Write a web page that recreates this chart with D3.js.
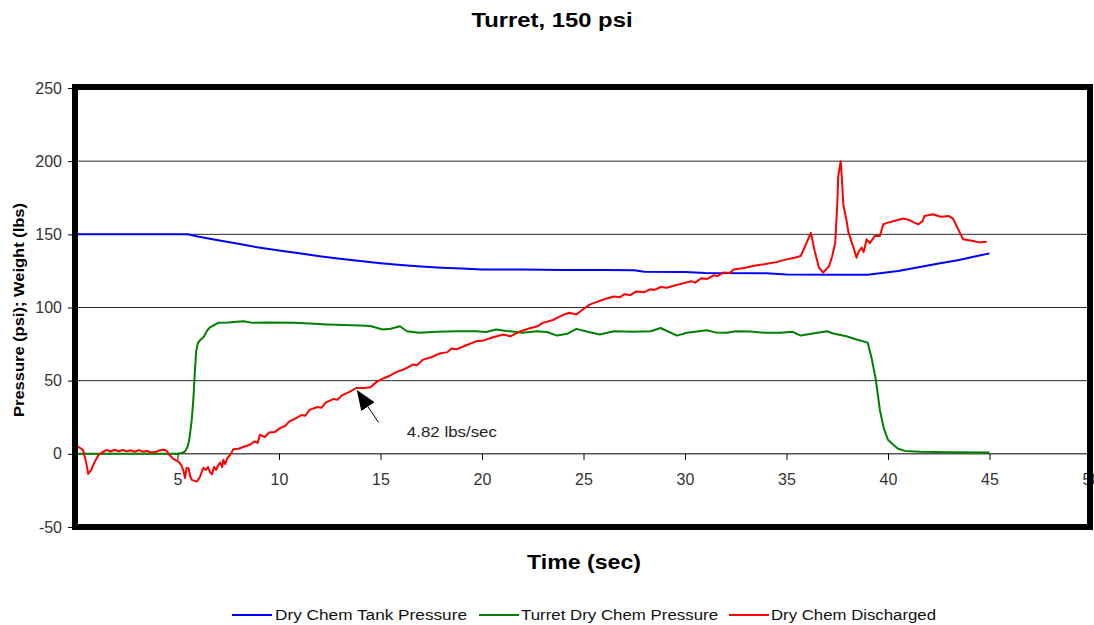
<!DOCTYPE html>
<html>
<head>
<meta charset="utf-8">
<script src="https://cdn.jsdelivr.net/npm/d3@7/dist/d3.min.js"></script>
<style>
    body { margin: 0; background: #ffffff; }
    svg { display: block; font-family: Arial, 'Liberation Sans', sans-serif; }
</style>
</head>
<body>
<div id="chart"></div>
<script>
const X_TICKS = [5, 10, 15, 20, 25, 30, 35, 40, 45, 50];
const Y_TICKS = [-50, 0, 50, 100, 150, 200, 250];
const GRID_VALUES = [50, 100, 150, 200];

// [time (sec), psi]
const tankPressure = [
    [0, 150], [1, 150], [2, 150], [3, 150], [4, 150], [5, 150], [5.5, 150], [6, 148.5], [7, 146],
    [8, 143.5], [9, 141], [10, 139], [11, 137], [12, 135], [13, 133.3], [14, 131.7], [15, 130.2],
    [16, 129], [17, 128], [18, 127.2], [19, 126.6], [20, 126], [22, 126], [24, 125.6], [26, 125.6],
    [27.5, 125.4], [28, 124.4], [30, 124.2], [31, 123.6], [34, 123.4], [35, 122.5], [38, 122.4],
    [39, 122.4], [39.5, 123.3], [40.5, 125], [41.5, 127.5], [42.5, 130], [43.5, 132.5], [44.5, 135.5],
    [45, 137]
];

// [time (sec), psi]
const turretPressure = [
    [0, 0], [1, 0], [2, 0], [3, 0], [4, 0], [5, 0], [5.2, 0.5], [5.37, 1.6], [5.5, 5], [5.58, 9.6],
    [5.7, 23], [5.78, 37], [5.85, 55], [5.92, 70], [6, 75.5], [6.1, 77.5], [6.3, 80], [6.45, 84],
    [6.6, 86.5], [7, 89.5], [7.5, 89.8], [8.25, 90.6], [8.7, 89.5], [9.5, 89.8], [10.7, 89.5],
    [11.5, 89], [12.35, 88.4], [13.2, 88], [14, 87.7], [14.5, 87.3], [15.1, 85], [15.5, 85.5],
    [15.96, 87.2], [16.3, 83.8], [16.9, 82.7], [17.8, 83.5], [18.75, 83.8], [19.7, 83.8], [20.2, 83.2],
    [20.7, 85], [21.2, 84], [22, 82.7], [22.7, 83.8], [23.2, 83.3], [23.7, 80.8], [24.2, 82],
    [24.65, 85.4], [25.3, 83.1], [25.8, 81.5], [26.5, 83.8], [27.45, 83.4], [28.3, 83.8], [28.8, 86],
    [29.6, 80.8], [30.1, 82.7], [31.07, 84.5], [31.5, 83], [32.05, 82.7], [32.5, 83.8], [33.2, 83.6],
    [34, 82.7], [34.7, 82.7], [35.3, 83.4], [35.7, 80.8], [36.3, 82.2], [37, 83.8], [37.3, 82.2],
    [37.95, 80.3], [38.45, 78.1], [39, 76], [39.2, 65], [39.4, 50.7], [39.6, 30], [39.8, 17], [40, 9.6],
    [40.26, 6.2], [40.5, 3.5], [40.84, 2], [41.6, 1.4], [43, 1], [45, 0.9]
];

// [time (sec), lbs]
const dischargedWeight = [
    [0, 5.5], [0.2, 4], [0.35, 2.5], [0.5, -6], [0.6, -13.7], [0.75, -11], [0.9, -6], [1.1, -1],
    [1.3, 1], [1.5, 2.7], [1.7, 1.6], [1.9, 2.8], [2.1, 1.8], [2.3, 2.6], [2.5, 1.7], [2.7, 2.4],
    [2.9, 1.4], [3.1, 2.5], [3.3, 1.5], [3.5, 1.9], [3.7, 0.9], [3.9, 1.2], [4.1, 2.3], [4.3, 2.8],
    [4.45, 2.3], [4.6, -0.7], [4.8, -3.5], [5.05, -5.3], [5.2, -8], [5.3, -12], [5.37, -16.5],
    [5.45, -9.6], [5.55, -10], [5.62, -15], [5.7, -17.8], [5.95, -19], [6.1, -16], [6.27, -9.6],
    [6.4, -11], [6.5, -9], [6.6, -12.5], [6.7, -14], [6.8, -9], [6.9, -11], [7, -8], [7.1, -6],
    [7.2, -9], [7.26, -4.1], [7.35, -7], [7.45, -3], [7.6, -0.7], [7.75, 3.2], [8, 3.5], [8.3, 5],
    [8.57, 6.2], [8.8, 8.5], [8.95, 7.5], [9.06, 13], [9.3, 11.5], [9.5, 14.5], [9.8, 15],
    [10.05, 17.6], [10.3, 19], [10.5, 22], [10.8, 24], [11.1, 26.5], [11.3, 26], [11.5, 30],
    [11.9, 32], [12.1, 31.5], [12.3, 35], [12.7, 37.5], [12.9, 37], [13.1, 40], [13.5, 42.5],
    [13.8, 45], [14.2, 45], [14.5, 45.5], [14.8, 49], [15, 50.7], [15.4, 53], [15.8, 56], [16.2, 58],
    [16.6, 61], [16.8, 60.5], [17.1, 64.4], [17.5, 66], [17.9, 68.5], [18.3, 69.5], [18.5, 72],
    [18.75, 71.5], [19.2, 74], [19.7, 76.9], [20.1, 77.5], [20.5, 79.5], [21.05, 81.5], [21.4, 80.3],
    [21.9, 83.8], [22.4, 86], [22.7, 87], [23, 89.5], [23.5, 91.5], [24, 95], [24.3, 96.4],
    [24.65, 95.2], [25, 99], [25.3, 102], [25.7, 104], [26.1, 106], [26.5, 107.5], [26.8, 107],
    [27, 109], [27.3, 108.5], [27.6, 111], [28, 110.5], [28.3, 112.5], [28.5, 112], [28.8, 114],
    [29.1, 113.5], [29.5, 115], [29.9, 116.5], [30.3, 118], [30.5, 117], [30.8, 120], [31.1, 119.5],
    [31.4, 122], [31.6, 121.5], [31.9, 124], [32.2, 123.5], [32.4, 126], [32.9, 127], [33.4, 128.5],
    [33.9, 129.5], [34.5, 131], [35, 132.9], [35.4, 134], [35.7, 135.2], [35.95, 143], [36.2, 151],
    [36.4, 138], [36.6, 127.2], [36.8, 123.8], [36.95, 126], [37.1, 128.3], [37.25, 135], [37.4, 144.3],
    [37.5, 170], [37.55, 190], [37.67, 200], [37.72, 190], [37.8, 170], [37.95, 160], [38.05, 151.5],
    [38.2, 145], [38.3, 140.9], [38.45, 134], [38.55, 138], [38.7, 140.9], [38.8, 138], [38.95, 146.6],
    [39.1, 144], [39.36, 148.9], [39.6, 148.9], [39.77, 156.9], [40, 158], [40.4, 159.5],
    [40.75, 160.8], [41, 160], [41.3, 158], [41.5, 156.9], [41.7, 159], [41.8, 162.6], [42.2, 163.7],
    [42.6, 162], [43, 162.5], [43.2, 160.8], [43.46, 153.4], [43.7, 146.6], [44.2, 145.4],
    [44.5, 144.5], [44.86, 145]
];

const SERIES = [
    { key: 'tank', label: 'Dry Chem Tank Pressure', color: '#0000ff', points: tankPressure },
    { key: 'turret', label: 'Turret Dry Chem Pressure', color: '#008000', points: turretPressure },
    { key: 'discharged', label: 'Dry Chem Discharged', color: '#ff0000', points: dischargedWeight }
];

const TITLE = 'Turret, 150 psi';
const X_TITLE = 'Time (sec)';
const Y_TITLE = 'Pressure (psi); Weight (lbs)';
const ANNOTATION_TEXT = '4.82 lbs/sec';

const width = 1094;
const height = 625;
const margin = { top: 88, right: 3, bottom: 98, left: 76 };
const innerWidth = width - margin.left - margin.right;
const innerHeight = height - margin.top - margin.bottom;

// plain hyphen for negatives, like the original chart
const formatTick = (value) => String(value);

const svg = d3.select('#chart').append('svg')
    .attr('width', width)
    .attr('height', height);

const chartGroup = svg.append('g')
    .attr('transform', `translate(${margin.left},${margin.top})`);

const xScale = d3.scaleLinear().domain([0, 50]).range([0, innerWidth]);
const yScale = d3.scaleLinear().domain([-50, 250]).range([innerHeight, 0]);

// horizontal grid
chartGroup.selectAll('.grid-line')
    .data(GRID_VALUES)
    .enter()
    .append('line')
    .attr('class', 'grid-line')
    .attr('x1', 0)
    .attr('x2', innerWidth)
    .attr('y1', (value) => yScale(value))
    .attr('y2', (value) => yScale(value))
    .attr('stroke', '#2a2a2a')
    .attr('stroke-width', 1);

// y axis on the left edge
chartGroup.append('g')
    .call(d3.axisLeft(yScale).tickValues(Y_TICKS).tickFormat(formatTick).tickSize(8).tickPadding(6))
    .call((group) => group.select('.domain').remove())
    .call((group) => group.selectAll('line').attr('stroke', '#000'))
    .call((group) => group.selectAll('text')
        .attr('fill', '#333')
        .attr('font-size', 16)
        .attr('font-family', 'Arial, Liberation Sans, sans-serif'));

// x axis crosses at zero
chartGroup.append('g')
    .attr('transform', `translate(0,${yScale(0)})`)
    .call(d3.axisBottom(xScale).tickValues(X_TICKS).tickFormat(formatTick).tickSize(6).tickPadding(14))
    .call((group) => group.select('.domain').remove())
    .call((group) => group.selectAll('line').attr('stroke', '#000'))
    .call((group) => group.selectAll('text')
        .attr('fill', '#333')
        .attr('font-size', 16)
        .attr('font-family', 'Arial, Liberation Sans, sans-serif'));

chartGroup.append('line')
    .attr('x1', 0)
    .attr('x2', innerWidth)
    .attr('y1', yScale(0))
    .attr('y2', yScale(0))
    .attr('stroke', '#000')
    .attr('stroke-width', 1);

const lineGenerator = d3.line()
    .x((point) => xScale(point[0]))
    .y((point) => yScale(point[1]));

SERIES.forEach((series) => {
    chartGroup.append('path')
        .datum(series.points)
        .attr('class', `series-line ${series.key}`)
        .attr('fill', 'none')
        .attr('stroke', series.color)
        .attr('stroke-width', 2)
        .attr('stroke-linejoin', 'round')
        .attr('d', lineGenerator);
});

// slope annotation with arrow
svg.append('defs').append('marker')
    .attr('id', 'arrow-head')
    .attr('viewBox', '0 0 20 16')
    .attr('refX', 19)
    .attr('refY', 8)
    .attr('markerWidth', 20)
    .attr('markerHeight', 16)
    .attr('markerUnits', 'userSpaceOnUse')
    .attr('orient', 'auto')
    .append('path')
    .attr('d', 'M0,0 L20,8 L0,16 Z')
    .attr('fill', '#000');

chartGroup.append('line')
    .attr('x1', xScale(14.9))
    .attr('y1', yScale(21.5))
    .attr('x2', xScale(13.86))
    .attr('y2', yScale(43))
    .attr('stroke', '#000')
    .attr('stroke-width', 1)
    .attr('marker-end', 'url(#arrow-head)');

chartGroup.append('text')
    .attr('x', xScale(16.3))
    .attr('y', yScale(11.8))
    .attr('font-size', 15)
    .attr('fill', '#222')
    .attr('textLength', 90)
    .attr('lengthAdjust', 'spacingAndGlyphs')
    .text(ANNOTATION_TEXT);

// thick frame around the plot area
chartGroup.append('rect')
    .attr('x', -1)
    .attr('y', -1)
    .attr('width', innerWidth)
    .attr('height', innerHeight + 1)
    .attr('fill', 'none')
    .attr('stroke', '#000')
    .attr('stroke-width', 6);

// titles
svg.append('text')
    .attr('x', 552)
    .attr('y', 27)
    .attr('text-anchor', 'middle')
    .attr('font-size', 20)
    .attr('font-weight', 'bold')
    .attr('textLength', 161)
    .attr('lengthAdjust', 'spacingAndGlyphs')
    .text(TITLE);

svg.append('text')
    .attr('x', 584)
    .attr('y', 569)
    .attr('text-anchor', 'middle')
    .attr('font-size', 21)
    .attr('font-weight', 'bold')
    .attr('textLength', 114)
    .attr('lengthAdjust', 'spacingAndGlyphs')
    .text(X_TITLE);

svg.append('text')
    .attr('transform', 'translate(23.5,310) rotate(-90)')
    .attr('text-anchor', 'middle')
    .attr('font-size', 15)
    .attr('font-weight', 'bold')
    .attr('textLength', 214)
    .attr('lengthAdjust', 'spacingAndGlyphs')
    .text(Y_TITLE);

// legend
const legendLayout = [
    { lineX: 232, textX: 275, textWidth: 192 },
    { lineX: 479, textX: 521, textWidth: 197 },
    { lineX: 729, textX: 771, textWidth: 165 }
];
const legendY = 615;

const legendItems = svg.selectAll('.legend-item')
    .data(SERIES)
    .enter()
    .append('g')
    .attr('class', 'legend-item');

legendItems.append('line')
    .attr('x1', (series, index) => legendLayout[index].lineX)
    .attr('x2', (series, index) => legendLayout[index].lineX + 40)
    .attr('y1', legendY)
    .attr('y2', legendY)
    .attr('stroke', (series) => series.color)
    .attr('stroke-width', 2);

legendItems.append('text')
    .attr('x', (series, index) => legendLayout[index].textX)
    .attr('y', legendY + 5)
    .attr('font-size', 14)
    .attr('fill', '#111')
    .attr('textLength', (series, index) => legendLayout[index].textWidth)
    .attr('lengthAdjust', 'spacingAndGlyphs')
    .text((series) => series.label);
</script>
</body>
</html>
